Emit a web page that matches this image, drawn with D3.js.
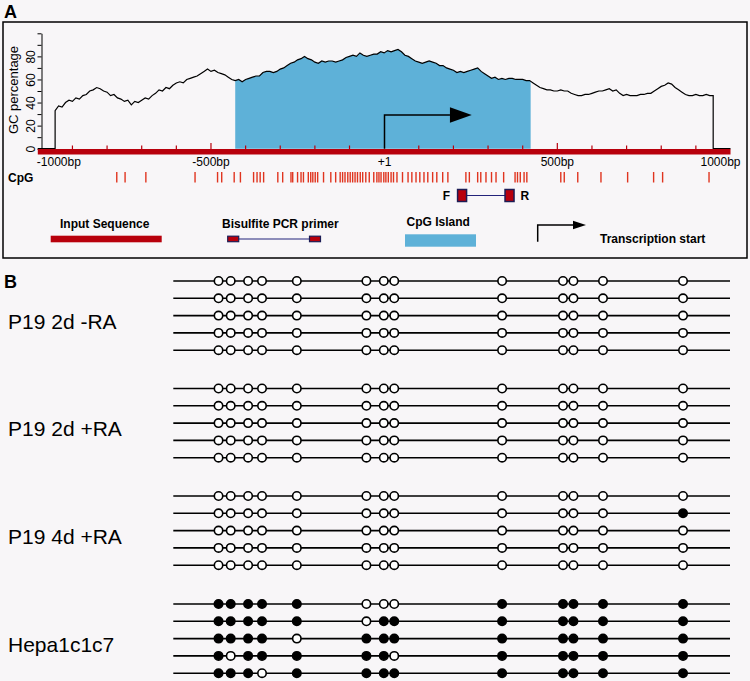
<!DOCTYPE html>
<html>
<head>
<meta charset="utf-8">
<script src="https://cdn.jsdelivr.net/npm/d3@7"></script>
<style>
  body { margin: 0; background: #f8f6f8; }
  svg { display: block; font-family: "Liberation Sans", Arial, sans-serif; }
</style>
</head>
<body>
<svg width="750" height="681"></svg>
<script>
// GC percentage, sampled every 10bp from -950 to +950
const gcStart = -950;
const gcStep = 10;
const gcValues = [
  33, 37, 36, 40, 42, 41, 44, 43, 46, 47, 50, 51, 53, 52, 50, 49, 46, 47, 44, 43,   // -950..-760
  41, 42, 38, 41, 40, 42, 44, 43, 46, 48, 51, 50, 53, 52, 55, 57, 58, 57, 60, 61,   // -750..-560
  62, 63, 65, 67, 69, 67, 68, 66, 65, 64, 62, 60, 59, 60, 58, 60, 61, 62, 63, 63,   // -550..-360
  66, 67, 67, 66, 67, 69, 70, 72, 74, 75, 77, 78, 80, 78, 77, 75, 74, 76, 75, 76,   // -350..-160
  76, 75, 76, 77, 79, 80, 81, 80, 83, 81, 80, 81, 82, 82, 84, 83, 85, 84, 85, 86,   // -150..40
  84, 81, 80, 78, 76, 75, 74, 75, 76, 75, 74, 72, 72, 70, 69, 68, 66, 67, 66, 67,   // 50..240
  68, 69, 70, 67, 65, 63, 61, 62, 60, 61, 60, 61, 61, 60, 60, 60, 59, 59, 57, 55,   // 250..440
  53, 52, 51, 51, 50, 50, 51, 50, 50, 48, 47, 46, 46, 47, 47, 48, 49, 50, 50, 51,   // 450..640
  52, 50, 51, 48, 46, 47, 46, 46, 46, 47, 47, 48, 48, 50, 52, 54, 55, 57, 56, 53,   // 650..840
  51, 49, 47, 46, 46, 47, 46, 46, 47, 46, 46                                        // 850..950
];

// CpG dinucleotide positions (bp relative to TSS)
const cpgSites = [
  -772, -748, -688, -546, -481, -469, -433, -415, -377, -367, -358, -348, -307, -293,
  -269, -264, -250, -240, -233, -219, -212, -206, -199, -192, -175, -154, -140, -127,
  -120, -113, -105, -98, -91, -84, -77, -69, -62, -53, -43, -30, -21, -15, -9, -1,
  5, 12, 20, 27, 37, 53, 69, 80, 92, 103, 115, 126, 140, 152, 169, 184, 236, 246,
  270, 279, 294, 310, 323, 345, 378, 385, 393, 404, 412, 510, 520, 559, 626, 703,
  778, 804, 938
];

const cpgIsland = [-430, 423];
const primers = { F: 225, R: 362 };
const tss = 1;
const xTicks = [-1000, -500, 1, 500, 1000];
const xTickLabels = ["-1000bp", "-500bp", "+1", "500bp", "1000bp"];
const yTicks = [0, 10, 20, 30, 40, 50, 60, 70, 80, 90, 100];

// Panel B: CpG sites in the amplicon and methylation calls (1 = methylated)
const ampliconSites = [26, 33, 43, 51, 71, 111, 121, 127, 189, 224, 230, 247, 293];
const sampleNames = ["P19 2d -RA", "P19 2d +RA", "P19 4d +RA", "Hepa1c1c7"];
const methylation = [
  ["0000000000000", "0000000000000", "0000000000000", "0000000000000", "0000000000000"],
  ["0000000000000", "0000000000000", "0000000000000", "0000000000000", "0000000000000"],
  ["0000000000000", "0000000000001", "0000000000000", "0000000000000", "0000000000000"],
  ["1111100011111", "1111101111111", "1111011111111", "1011111011111", "1110111111111"]
];

const svg = d3.select("svg");
const RED = "#b8000c";
const CPG_RED = "#e0341f";
const BLUE = "#5eb1d8";

// ---------- Panel A ----------
svg.append("text").attr("x", 4).attr("y", 18)
  .attr("font-size", 18).attr("font-weight", "bold").text("A");
svg.append("rect").attr("x", 3).attr("y", 22).attr("width", 744).attr("height", 236)
  .attr("fill", "none").attr("stroke", "#000").attr("stroke-width", 1.5);

const x = d3.scaleLinear().domain([-1000, 1000]).range([37.8, 730.5]);
const y = d3.scaleLinear().domain([0, 100]).range([148.7, 33.3]);

const gc = gcValues.map((v, i) => [gcStart + i * gcStep, v]);
const first = gc[0][0], last = gc[gc.length - 1][0];
const gcLine = [[-1000, 0], [first, 0], ...gc, [last, 0], [1000, 0]];

// CpG island fill under the curve
svg.append("clipPath").attr("id", "island")
  .append("rect")
  .attr("x", x(cpgIsland[0])).attr("y", 0)
  .attr("width", x(cpgIsland[1]) - x(cpgIsland[0])).attr("height", 200);

svg.append("path")
  .datum(gc)
  .attr("clip-path", "url(#island)")
  .attr("fill", BLUE)
  .attr("d", d3.area().x(d => x(d[0])).y0(y(0)).y1(d => y(d[1])));

svg.append("path")
  .datum(gcLine)
  .attr("fill", "none").attr("stroke", "#000").attr("stroke-width", 1.2)
  .attr("d", d3.line().x(d => x(d[0])).y(d => y(d[1])));

// y axis
const yAxis = svg.append("g").attr("transform", "translate(41.5,0)")
  .call(d3.axisLeft(y).tickValues(yTicks).tickSize(4).tickSizeOuter(0)
    .tickFormat(d => (d % 20 === 0 && d < 100) ? d : ""));
yAxis.select(".domain").attr("stroke-width", 1);
yAxis.selectAll(".tick line").attr("stroke-width", 1);
yAxis.selectAll("text")
  .attr("transform", "rotate(-90)")
  .attr("x", 0).attr("y", -7).attr("dy", 0)
  .attr("text-anchor", "middle")
  .attr("font-size", 12).attr("font-family", "Liberation Sans, Arial, sans-serif");

svg.append("text")
  .attr("transform", "translate(17.5,90) rotate(-90)")
  .attr("text-anchor", "middle").attr("font-size", 13)
  .text("GC percentage");

// input sequence bar with ticks
svg.append("rect").attr("x", x(-1000)).attr("y", 149).attr("width", x(1000) - x(-1000))
  .attr("height", 5.5).attr("fill", RED);
svg.selectAll(".bartick")
  .data(d3.range(-900, 901, 100).filter(d => d !== 0))
  .enter().append("line")
  .attr("x1", d => x(d)).attr("x2", d => x(d))
  .attr("y1", 149).attr("y2", d => Math.abs(d) === 500 ? 143 : 145.5)
  .attr("stroke", RED).attr("stroke-width", 1.2);

// transcription start arrow
const tssY = 115;
svg.append("path")
  .attr("d", `M${x(tss)},${y(0)}V${tssY}H${x(190)}`)
  .attr("fill", "none").attr("stroke", "#000").attr("stroke-width", 1.5);
svg.append("path")
  .attr("d", `M${x(190)},${tssY - 7.7}L${x(253)},${tssY}L${x(190)},${tssY + 7.7}Z`)
  .attr("fill", "#000");

// x tick labels
svg.selectAll(".xlab").data(xTicks).enter().append("text")
  .attr("x", (d, i) => i === 0 ? x(d) - 1 : i === xTicks.length - 1 ? x(d) + 10 : x(d))
  .attr("y", 166)
  .attr("text-anchor", (d, i) => i === 0 ? "start" : i === xTicks.length - 1 ? "end" : "middle")
  .attr("font-size", 12)
  .text((d, i) => xTickLabels[i]);

// CpG row
svg.append("text").attr("x", 8).attr("y", 182).attr("font-size", 12)
  .attr("font-weight", "bold").text("CpG");
svg.selectAll(".cpg").data(cpgSites).enter().append("line")
  .attr("x1", d => x(d)).attr("x2", d => x(d))
  .attr("y1", 172).attr("y2", 182.5)
  .attr("stroke", CPG_RED).attr("stroke-width", 1.4);

// primers F and R
const primerY = 195.5;
svg.append("line").attr("x1", x(primers.F)).attr("x2", x(primers.R))
  .attr("y1", primerY).attr("y2", primerY).attr("stroke", "#23237a").attr("stroke-width", 1.2);
Object.entries(primers).forEach(([k, p]) => {
  svg.append("rect").attr("x", x(p) - 4.5).attr("y", primerY - 6)
    .attr("width", 9).attr("height", 12)
    .attr("fill", RED).attr("stroke", "#1c1c55").attr("stroke-width", 1.5);
  svg.append("text")
    .attr("x", k === "F" ? x(p) - 12 : x(p) + 11)
    .attr("y", primerY + 4.5)
    .attr("text-anchor", k === "F" ? "end" : "start")
    .attr("font-size", 12).attr("font-weight", "bold").text(k);
});

// legend
const lg = svg.append("g").attr("font-size", 12).attr("font-weight", "bold");
lg.append("text").attr("x", 60).attr("y", 228).text("Input Sequence");
lg.append("rect").attr("x", 50.7).attr("y", 235.7).attr("width", 111).attr("height", 6.6).attr("fill", RED);

lg.append("text").attr("x", 222).attr("y", 228).text("Bisulfite PCR primer");
lg.append("line").attr("x1", 239).attr("x2", 310).attr("y1", 239).attr("y2", 239)
  .attr("stroke", "#23237a").attr("stroke-width", 1.2);
[227.7, 309.5].forEach(px => {
  lg.append("rect").attr("x", px).attr("y", 236.2).attr("width", 11).attr("height", 5.5)
    .attr("fill", RED).attr("stroke", "#1c1c55").attr("stroke-width", 1.2);
});

lg.append("text").attr("x", 406.5).attr("y", 226).text("CpG Island");
lg.append("rect").attr("x", 405).attr("y", 234.3).attr("width", 71).attr("height", 12.4).attr("fill", BLUE);

lg.append("path").attr("d", "M537.7,241.7V225H574").attr("fill", "none")
  .attr("stroke", "#000").attr("stroke-width", 1.5);
lg.append("path").attr("d", "M573,220.7L586,225L573,229.3Z").attr("fill", "#000");
lg.append("text").attr("x", 600).attr("y", 242.7).text("Transcription start");

// ---------- Panel B ----------
svg.append("text").attr("x", 4).attr("y", 288)
  .attr("font-size", 18).attr("font-weight", "bold").text("B");

const bx = d3.scaleLinear().domain([0, 320]).range([173.3, 730]);
const groupTop = [281, 388.5, 496, 604];
const rowGap = 17.3;

methylation.forEach((rows, gi) => {
  const g = svg.append("g");
  g.append("text")
    .attr("x", 8).attr("y", groupTop[gi] + 2 * rowGap + 13)
    .attr("font-size", 21).text(sampleNames[gi]);
  rows.forEach((row, ri) => {
    const ry = groupTop[gi] + ri * rowGap;
    g.append("line").attr("x1", bx(0)).attr("x2", bx(320))
      .attr("y1", ry).attr("y2", ry).attr("stroke", "#000").attr("stroke-width", 1.6);
    g.selectAll(".site" + ri)
      .data(ampliconSites.map((s, k) => ({ s, m: row[k] === "1" })))
      .enter().append("circle")
      .attr("cx", d => bx(d.s)).attr("cy", ry).attr("r", 4.2)
      .attr("fill", d => d.m ? "#000" : "#fff")
      .attr("stroke", "#000").attr("stroke-width", 1.6);
  });
});
</script>
</body>
</html>
